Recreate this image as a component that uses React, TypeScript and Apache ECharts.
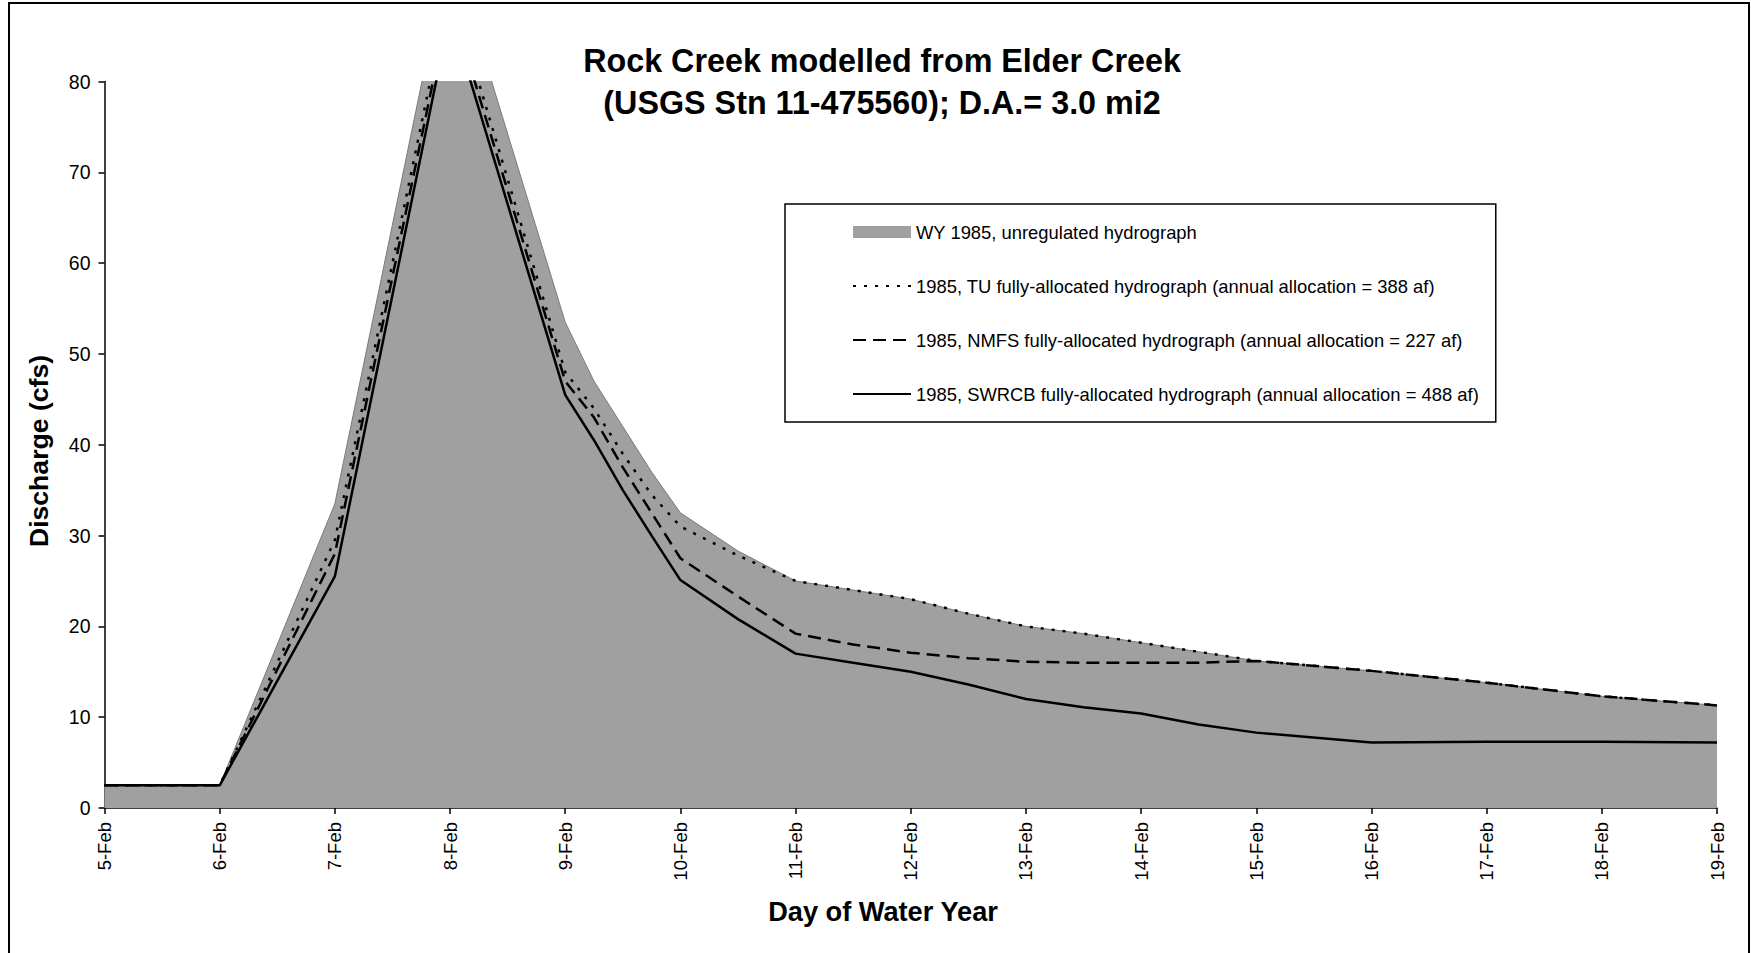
import React, { useEffect, useRef } from "react";
import * as echarts from "echarts";

// Tick labels of the day axis (5-Feb = day 0)
const dayTickLabels = [
  "5-Feb", "6-Feb", "7-Feb", "8-Feb", "9-Feb", "10-Feb", "11-Feb", "12-Feb",
  "13-Feb", "14-Feb", "15-Feb", "16-Feb", "17-Feb", "18-Feb", "19-Feb",
];

// Sample times, in days after 5-Feb
const sampleDays = [
  0, 1, 2, 3, 4, 4.25, 4.5, 4.75, 5, 5.5, 6, 6.5, 7, 7.5, 8, 8.5, 9, 9.5, 10, 11, 12, 13, 14,
];

// Discharge (cfs) per series
const unregulatedCfs = [
  2.5, 2.5, 33.5, 95, 53.5, 47, 42, 37, 32.5, 28.3, 25, 24, 23, 21.4, 20, 19.2, 18.2, 17.2, 16.2, 15.1, 13.8, 12.3, 11.3,
];
const tuCfs = [
  2.5, 2.5, 29.5, 90.5, 48, 44, 39, 34.5, 31, 27.8, 25, 24, 23, 21.4, 20, 19.2, 18.2, 17.2, 16.2, 15.1, 13.8, 12.3, 11.3,
];
const nmfsCfs = [
  2.5, 2.5, 28, 89, 47, 43, 37.5, 32.5, 27.5, 23.3, 19.2, 18, 17.1, 16.5, 16.1, 16, 16, 16, 16.2, 15.1, 13.8, 12.3, 11.3,
];
const swrcbCfs = [
  2.5, 2.5, 25.5, 87.5, 45.5, 40.5, 35, 30, 25.1, 20.8, 17, 16, 15, 13.6, 12, 11.1, 10.4, 9.2, 8.3, 7.2, 7.3, 7.3, 7.2,
];

const seriesNames = [
  "WY 1985, unregulated hydrograph",
  "1985, TU fully-allocated hydrograph (annual allocation = 388 af)",
  "1985, NMFS fully-allocated hydrograph (annual allocation = 227 af)",
  "1985, SWRCB fully-allocated hydrograph (annual allocation = 488 af)",
];

const FONT = '"Liberation Sans", Arial, Helvetica, sans-serif';
const FILL = "#a0a0a0";

const pairs = (vals: number[]) => sampleDays.map((d, i) => [d, vals[i]]);

export default function App() {
  const ref = useRef<HTMLDivElement>(null);

  useEffect(() => {
    if (!ref.current) return;
    const chart = echarts.init(ref.current, null, { renderer: "svg" });
    const option: any = {
      animation: false,
      backgroundColor: "#ffffff",
      grid: { left: 104.5, right: 34, top: 81.5, bottom: 145, containLabel: false },
      xAxis: {
        type: "value",
        min: 0,
        max: 14,
        interval: 1,
        splitLine: { show: false },
        axisLine: { show: true, lineStyle: { color: "#000", width: 1.5 } },
        axisTick: { show: true, length: 6, lineStyle: { color: "#000", width: 1.5 } },
        axisLabel: {
          rotate: 90,
          margin: 14,
          color: "#000",
          fontSize: 18.5,
          fontFamily: FONT,
          formatter: (v: number) => dayTickLabels[Math.round(v)] ?? "",
        },
      },
      yAxis: {
        type: "value",
        min: 0,
        max: 80,
        interval: 10,
        splitLine: { show: false },
        axisLine: { show: true, lineStyle: { color: "#000", width: 1.5 } },
        axisTick: { show: true, length: 6, lineStyle: { color: "#000", width: 1.5 } },
        axisLabel: { margin: 14, color: "#000", fontSize: 19.5, fontFamily: FONT },
      },
      legend: {
        orient: "vertical",
        left: 785,
        top: 204,
        padding: [19, 17, 19, 67],
        itemGap: 36,
        itemWidth: 58,
        itemHeight: 12,
        borderColor: "#000",
        borderWidth: 1.5,
        backgroundColor: "#fff",
        selectedMode: false,
        itemStyle: { opacity: 0 },
        textStyle: { color: "#000", fontSize: 18.4, fontFamily: FONT },
        data: [
          { name: seriesNames[0], icon: "rect", itemStyle: { color: FILL, opacity: 1 } },
          { name: seriesNames[1] },
          { name: seriesNames[2] },
          { name: seriesNames[3] },
        ],
      },
      series: [
        {
          name: seriesNames[0],
          type: "line",
          data: pairs(unregulatedCfs),
          symbol: "none",
          itemStyle: { color: FILL },
          lineStyle: { color: "#7a7a7a", width: 1 },
          areaStyle: { color: FILL, opacity: 1 },
          z: 1,
        },
        {
          name: seriesNames[1],
          type: "line",
          data: pairs(tuCfs),
          symbol: "none",
          itemStyle: { color: "#000" },
          lineStyle: { color: "#000", width: 2.5, type: [3, 8] },
          z: 3,
        },
        {
          name: seriesNames[2],
          type: "line",
          data: pairs(nmfsCfs),
          symbol: "none",
          itemStyle: { color: "#000" },
          lineStyle: { color: "#000", width: 2.5, type: [13, 7] },
          z: 3,
        },
        {
          name: seriesNames[3],
          type: "line",
          data: pairs(swrcbCfs),
          symbol: "none",
          itemStyle: { color: "#000" },
          lineStyle: { color: "#000", width: 2.5, type: "solid" },
          z: 3,
        },
      ],
      graphic: [
        {
          type: "rect",
          shape: { x: 9, y: 3, width: 1740, height: 1000 },
          style: { fill: "none", stroke: "#000", lineWidth: 2 },
          silent: true,
        },
        {
          type: "text",
          x: 882,
          y: 61,
          style: {
            text: "Rock Creek modelled from Elder Creek",
            fontSize: 32.3,
            fontWeight: "bold",
            fontFamily: FONT,
            fill: "#000",
            align: "center",
            verticalAlign: "middle",
          },
        },
        {
          type: "text",
          x: 882,
          y: 103,
          style: {
            text: "(USGS Stn 11-475560); D.A.= 3.0 mi2",
            fontSize: 32.3,
            fontWeight: "bold",
            fontFamily: FONT,
            fill: "#000",
            align: "center",
            verticalAlign: "middle",
          },
        },
        {
          type: "text",
          x: 39,
          y: 451,
          rotation: Math.PI / 2,
          style: {
            text: "Discharge (cfs)",
            fontSize: 26.6,
            fontWeight: "bold",
            fontFamily: FONT,
            fill: "#000",
            align: "center",
            verticalAlign: "middle",
          },
        },
        {
          type: "text",
          x: 883,
          y: 911,
          style: {
            text: "Day of Water Year",
            fontSize: 27.2,
            fontWeight: "bold",
            fontFamily: FONT,
            fill: "#000",
            align: "center",
            verticalAlign: "middle",
          },
        },
      ],
    };
    chart.setOption(option);
    return () => chart.dispose();
  }, []);

  return (
    <div
      ref={ref}
      style={{ position: "fixed", left: 0, top: 0, width: 1751, height: 953, background: "#fff" }}
    />
  );
}
